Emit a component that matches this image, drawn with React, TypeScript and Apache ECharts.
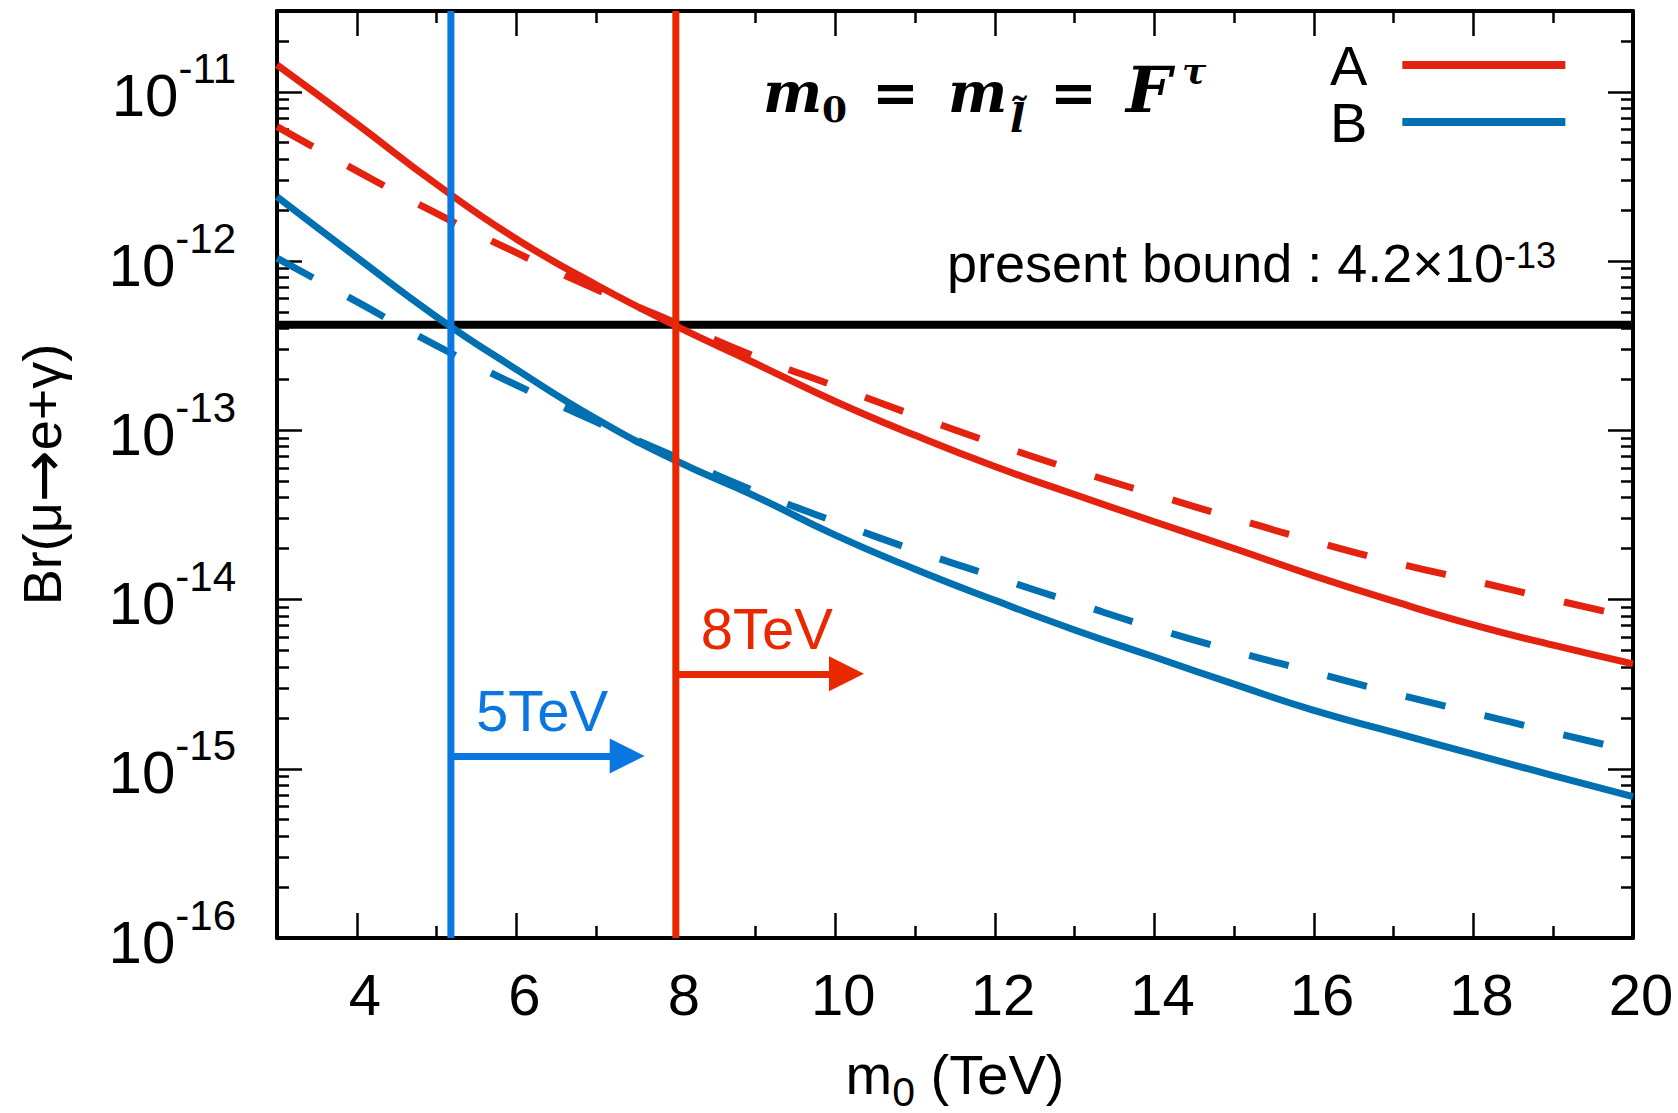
import React, { useEffect, useRef } from 'react';
import * as echarts from 'echarts';

// m0 grid (TeV) and branching ratios Br(mu -> e gamma)
const m0 = [3, 4, 5, 6, 7, 8, 9, 10, 11, 12, 13, 14, 15, 16, 17, 18, 19, 20];
const brASolid = [1.44e-11, 6.46e-12, 2.84e-12, 1.35e-12, 7.24e-13, 4.14e-13, 2.48e-13, 1.48e-13, 9.33e-14, 6.1e-14, 4.17e-14, 2.88e-14, 2.0e-14, 1.38e-14, 9.77e-15, 7.08e-15, 5.37e-15, 4.17e-15];
const brADashed = [6.22e-12, 3.41e-12, 1.91e-12, 1.12e-12, 6.81e-13, 4.31e-13, 2.72e-13, 1.82e-13, 1.22e-13, 8.32e-14, 5.81e-14, 4.17e-14, 3.02e-14, 2.21e-14, 1.66e-14, 1.29e-14, 1.0e-14, 7.8e-15];
const brBSolid = [2.4e-12, 1.05e-12, 4.68e-13, 2.29e-13, 1.17e-13, 6.61e-14, 4.07e-14, 2.4e-14, 1.51e-14, 9.89e-15, 6.61e-15, 4.57e-15, 3.16e-15, 2.21e-15, 1.64e-15, 1.22e-15, 9.12e-16, 6.84e-16];
const brBDashed = [1.04e-12, 5.75e-13, 3.16e-13, 1.85e-13, 1.12e-13, 6.95e-14, 4.35e-14, 2.88e-14, 1.95e-14, 1.36e-14, 9.55e-15, 6.76e-15, 4.95e-15, 3.72e-15, 2.79e-15, 2.14e-15, 1.64e-15, 1.27e-15];

// experimental bound and the m0 limits it implies
const presentBound = 4.2e-13;
const limitB = 5.18; // "5TeV"
const limitA = 8.0; // "8TeV"
const arrowB = { y: 1.19e-15, to: 7.39 };
const arrowA = { y: 3.64e-15, to: 10.14 };

// axis ranges and ticks
const X_MIN = 3;
const X_MAX = 20;
const Y_MIN = 1e-16;
const Y_MAX = 3e-11;
const xMajor = [4, 6, 8, 10, 12, 14, 16, 18, 20];
const xMinor = [5, 7, 9, 11, 13, 15, 17, 19];
const yDecades = [-16, -15, -14, -13, -12, -11];

const L = (v: number) => Math.log10(v);
const yLo = L(Y_MIN);
const yHi = L(Y_MAX);
const yMinor: number[] = [];
for (const d of yDecades) {
  for (let k = 2; k <= 9; k++) {
    const t = d + Math.log10(k);
    if (t < yHi) yMinor.push(t);
  }
}

const FONT = 'Liberation Sans';
const MATH = 'DejaVu Serif';
const RED = '#e3230f';
const BLUE = '#0070b0';
const RED_LIM = '#ea2800';
const BLUE_LIM = '#0a76df';

const toSeries = (vals: number[]) => m0.map((x, i) => [x, L(vals[i])]);

const GRID = { left: 277, top: 11, width: 1356, height: 927, containLabel: false, outerBoundsMode: 'none' };

const frameLine = { show: true, onZero: false, lineStyle: { color: '#000', width: 4 } };
const noLine = { show: false, onZero: false };
const tick = (values: number[], length: number) => ({
  show: true,
  inside: true,
  length,
  customValues: values,
  lineStyle: { color: '#000', width: 2.5 },
});

const xBase = { type: 'value', min: X_MIN, max: X_MAX, splitLine: { show: false } };
const yBase = { type: 'value', min: yLo, max: yHi, splitLine: { show: false } };

// baseline -> centre of a text line for these fonts
const mid = (baseline: number, size: number) => baseline - 0.346 * size;

function mathText(text: string, x: number, baseline: number, size: number, italic = true) {
  return {
    type: 'text',
    x,
    y: mid(baseline, size),
    silent: true,
    style: {
      text,
      fill: '#000',
      font: `${italic ? 'italic ' : ''}bold ${size}px "${MATH}"`,
      align: 'left',
      verticalAlign: 'middle',
    },
  };
}

const curve = (name: string, vals: number[], color: string, dashed: boolean) => ({
  name,
  type: 'line',
  xAxisIndex: 0,
  yAxisIndex: 0,
  data: toSeries(vals),
  color,
  itemStyle: { color },
  symbol: 'none',
  smooth: 0.5,
  lineStyle: { color, width: 7, type: dashed ? [41, 40] : 'solid' },
  z: 3,
});

const limitLine = (name: string, x: number, color: string, arrow: { y: number; to: number }, text: string) => ({
  name,
  type: 'line',
  xAxisIndex: 0,
  yAxisIndex: 0,
  data: [[x, yLo], [x, yHi]],
  symbol: 'none',
  lineStyle: { color, width: 7 },
  z: 4,
  silent: true,
  markLine: {
    silent: true,
    animation: false,
    symbol: ['none', 'triangle'],
    symbolSize: [35, 35],
    lineStyle: { color, width: 7, type: 'solid' },
    itemStyle: { color },
    label: {
      show: true,
      position: 'insideStartTop',
      formatter: text,
      color,
      fontSize: 58,
      fontFamily: FONT,
      distance: [25, 16],
    },
    data: [[{ coord: [x, L(arrow.y)] }, { coord: [arrow.to, L(arrow.y)] }]],
  },
});

function buildOption() {
  return {
    animation: false,
    backgroundColor: '#fff',
    grid: [{ ...GRID }, { ...GRID }],
    xAxis: [
      {
        ...xBase,
        gridIndex: 0,
        position: 'bottom',
        axisLine: frameLine,
        axisTick: tick(xMajor, 25),
        axisLabel: {
          show: true,
          customValues: xMajor,
          margin: 27,
          fontSize: 58,
          fontFamily: FONT,
          color: '#000',
          padding: [0, 0, 0, 16],
        },
        name: '{a|m}{s|0}{a| (TeV)}',
        nameLocation: 'middle',
        nameGap: 99,
        nameTextStyle: {
          color: '#000',
          rich: {
            a: { fontSize: 56, fontFamily: FONT, color: '#000', verticalAlign: 'middle' },
            s: { fontSize: 41, fontFamily: FONT, color: '#000', verticalAlign: 'middle', padding: [34, 0, 0, 0] },
          },
        },
      },
      {
        ...xBase,
        gridIndex: 0,
        position: 'top',
        axisLine: frameLine,
        axisTick: tick(xMajor, 25),
        axisLabel: { show: false },
      },
      {
        ...xBase,
        gridIndex: 1,
        position: 'bottom',
        axisLine: noLine,
        axisTick: tick(xMinor, 12),
        axisLabel: { show: false },
      },
      {
        ...xBase,
        gridIndex: 1,
        position: 'top',
        axisLine: noLine,
        axisTick: tick(xMinor, 12),
        axisLabel: { show: false },
      },
    ],
    yAxis: [
      {
        ...yBase,
        gridIndex: 0,
        position: 'left',
        axisLine: frameLine,
        axisTick: tick(yDecades, 25),
        axisLabel: {
          show: true,
          customValues: yDecades,
          margin: 41,
          formatter: (v: number) => `{b|10}{s|${Math.round(v)}}`,
          rich: {
            b: { fontSize: 60, fontFamily: FONT, color: '#000', verticalAlign: 'middle', padding: [8, 0, 0, 0] },
            s: { fontSize: 42, fontFamily: FONT, color: '#000', verticalAlign: 'middle', padding: [0, 0, 46, 0] },
          },
        },
        name: '{a|Br(μ}{r|→}{a|e+γ)}',
        nameLocation: 'middle',
        nameRotate: 90,
        nameGap: 204,
        nameTextStyle: {
          color: '#000',
          rich: {
            a: { fontSize: 54, fontFamily: FONT, color: '#000' },
            r: { fontSize: 62, fontFamily: 'DejaVu Sans', color: '#000' },
          },
        },
      },
      {
        ...yBase,
        gridIndex: 0,
        position: 'right',
        axisLine: frameLine,
        axisTick: tick(yDecades, 25),
        axisLabel: { show: false },
      },
      {
        ...yBase,
        gridIndex: 1,
        position: 'left',
        axisLine: noLine,
        axisTick: tick(yMinor, 12),
        axisLabel: { show: false },
      },
      {
        ...yBase,
        gridIndex: 1,
        position: 'right',
        axisLine: noLine,
        axisTick: tick(yMinor, 12),
        axisLabel: { show: false },
      },
    ],
    legend: {
      data: ['A', 'B'],
      orient: 'vertical',
      align: 'right',
      left: 1330,
      top: 37,
      padding: 0,
      itemGap: 1,
      itemWidth: 163,
      itemHeight: 8,
      icon: 'rect',
      selectedMode: false,
      textStyle: { fontSize: 56, fontFamily: FONT, color: '#000', padding: [0, 30, 0, 0] },
    },
    graphic: [
      // m_0 = m_l~ = F^tau
      mathText('m', 763, 111.7, 56),
      mathText('0', 822, 121.7, 36, false),
      mathText('=', 872, 111.7, 56, false),
      mathText('m', 948, 111.7, 56),
      mathText('l̃', 1010, 131.7, 40),
      mathText('=', 1050, 111.7, 56, false),
      mathText('F', 1126, 111.7, 64),
      mathText('τ', 1182, 82, 36),
      {
        type: 'text',
        x: 947,
        y: mid(282, 54),
        silent: true,
        style: {
          text: '{t|present bound : 4.2×10}{s|-13}',
          align: 'left',
          verticalAlign: 'middle',
          rich: {
            t: { fontSize: 54, fontFamily: FONT, fill: '#000', verticalAlign: 'middle' },
            s: { fontSize: 36, fontFamily: FONT, fill: '#000', verticalAlign: 'middle', padding: [0, 0, 16, 0] },
          },
        },
      },
    ],
    series: [
      {
        name: 'present bound',
        type: 'line',
        xAxisIndex: 0,
        yAxisIndex: 0,
        data: [[X_MIN, L(presentBound)], [X_MAX, L(presentBound)]],
        symbol: 'none',
        lineStyle: { color: '#000', width: 8 },
        z: 2,
        silent: true,
      },
      curve('A', brASolid, RED, false),
      curve('A (dashed)', brADashed, RED, true),
      curve('B', brBSolid, BLUE, false),
      curve('B (dashed)', brBDashed, BLUE, true),
      limitLine('limit B', limitB, BLUE_LIM, arrowB, '5TeV'),
      limitLine('limit A', limitA, RED_LIM, arrowA, '8TeV'),
    ],
  };
}

export default function App() {
  const ref = useRef<HTMLDivElement>(null);
  useEffect(() => {
    if (!ref.current) return;
    const chart = echarts.init(ref.current, null, { renderer: 'svg' });
    chart.setOption(buildOption() as any);
    return () => chart.dispose();
  }, []);
  return (
    <div
      ref={ref}
      style={{ position: 'fixed', left: 0, top: 0, width: 1678, height: 1113, background: '#fff' }}
    />
  );
}
